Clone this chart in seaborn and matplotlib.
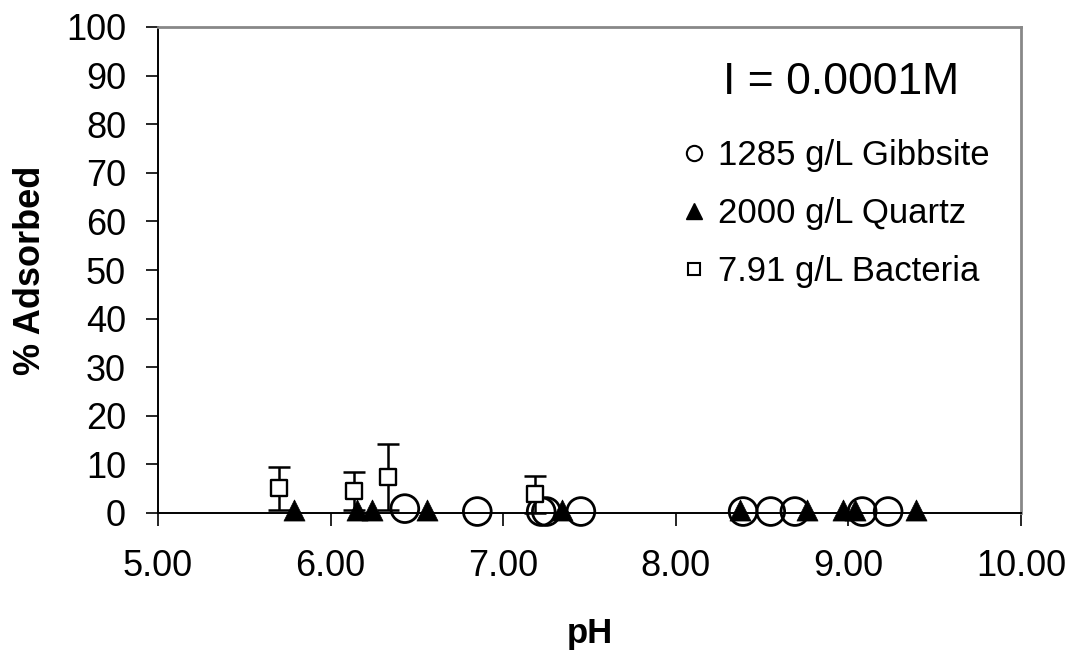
import numpy as np
import pandas as pd
import matplotlib
matplotlib.use("Agg")
import matplotlib.pyplot as plt
import seaborn as sns
from matplotlib.lines import Line2D

# ---- data ----
gibbsite_ph = [6.43, 6.85, 7.22, 7.25, 7.45, 8.39, 8.55, 8.69, 9.08, 9.23]
gibbsite_ads = [0.9, 0.3, 0.3, 0.3, 0.3, 0.3, 0.3, 0.3, 0.3, 0.3]

quartz_ph = [5.79, 6.155, 6.24, 6.56, 7.34, 8.37, 8.76, 8.97, 9.04, 9.39]
quartz_ads = [0.6, 0.6, 0.6, 0.6, 0.6, 0.6, 0.6, 0.6, 0.6, 0.6]

bacteria_ph = [5.70, 6.135, 6.334, 7.184]
bacteria_ads = [5.1, 4.5, 7.5, 3.85]
bacteria_err = [4.4, 3.9, 6.8, 3.75]

labels = ["1285 g/L Gibbsite", "2000 g/L Quartz", "7.91 g/L Bacteria"]
legend_title = "I = 0.0001M"
xticks = [5, 6, 7, 8, 9, 10]
yticks = [0, 10, 20, 30, 40, 50, 60, 70, 80, 90, 100]

sns.set_style("white")
plt.rcParams['font.family'] = ['Liberation Sans', 'DejaVu Sans']
plt.rcParams['text.color'] = 'black'
plt.rcParams['axes.labelcolor'] = 'black'
plt.rcParams['xtick.color'] = 'black'
plt.rcParams['ytick.color'] = 'black'

fig = plt.figure(figsize=(10.71, 6.51), dpi=100)
ax = fig.add_axes([158/1071, 1 - 513/651, (1021-158)/1071, (513-27)/651])

df_g = pd.DataFrame({"pH": gibbsite_ph, "ads": gibbsite_ads})
df_q = pd.DataFrame({"pH": quartz_ph, "ads": quartz_ads})
df_b = pd.DataFrame({"pH": bacteria_ph, "ads": bacteria_ads})

ax.errorbar(bacteria_ph, bacteria_ads, yerr=bacteria_err, fmt='none',
            ecolor='black', elinewidth=1.8, capsize=8, capthick=1.8,
            clip_on=False, zorder=2)
sns.scatterplot(data=df_g, x="pH", y="ads", ax=ax, marker='o', s=400,
                facecolor='none', edgecolor='black', linewidth=2.0,
                clip_on=False, zorder=3)
sns.scatterplot(data=df_q, x="pH", y="ads", ax=ax, marker='^', s=230,
                color='black', edgecolor='black', linewidth=0.5,
                clip_on=False, zorder=4)
sns.scatterplot(data=df_b, x="pH", y="ads", ax=ax, marker='s', s=125,
                facecolor='white', edgecolor='black', linewidth=1.7,
                clip_on=False, zorder=5)

ax.set_xlim(5, 10)
ax.set_ylim(0, 100)
ax.set_xticks(xticks)
ax.set_xticklabels([f"{v:.2f}" for v in xticks])
ax.set_yticks(yticks)
ax.tick_params(axis='both', direction='out', length=9, width=1.2,
               labelsize=26, color='black', labelcolor='black', pad=14,
               left=True, bottom=True)
ax.tick_params(axis='x', pad=17)

for side in ['left', 'bottom']:
    ax.spines[side].set_color('black')
    ax.spines[side].set_linewidth(1.4)
for side in ['top', 'right']:
    ax.spines[side].set_color('#888888')
    ax.spines[side].set_linewidth(2.0)

ax.set_xlabel("pH", fontsize=25, fontweight='bold', labelpad=24, color='black')
ax.set_ylabel("% Adsorbed", fontsize=26, fontweight='bold', labelpad=13, color='black')

handles = [
    Line2D([], [], linestyle='none', marker='o', markersize=11,
           markerfacecolor='none', markeredgecolor='black', markeredgewidth=1.5),
    Line2D([], [], linestyle='none', marker='^', markersize=11,
           color='black'),
    Line2D([], [], linestyle='none', marker='s', markersize=8,
           markerfacecolor='white', markeredgecolor='black', markeredgewidth=1.5),
]
leg = ax.legend(handles, labels, loc='upper left',
                bbox_to_anchor=((680-158)/863, (513-139)/486), frameon=False,
                fontsize=25, handlelength=0.8,
                handletextpad=0.3, labelspacing=0.72, borderpad=0,
                borderaxespad=0, labelcolor='black')

ax.text((841-158)/863, (513-82)/486, legend_title, transform=ax.transAxes,
        ha='center', va='center', fontsize=32, color='black')

fig.savefig("out.png", dpi=100)
